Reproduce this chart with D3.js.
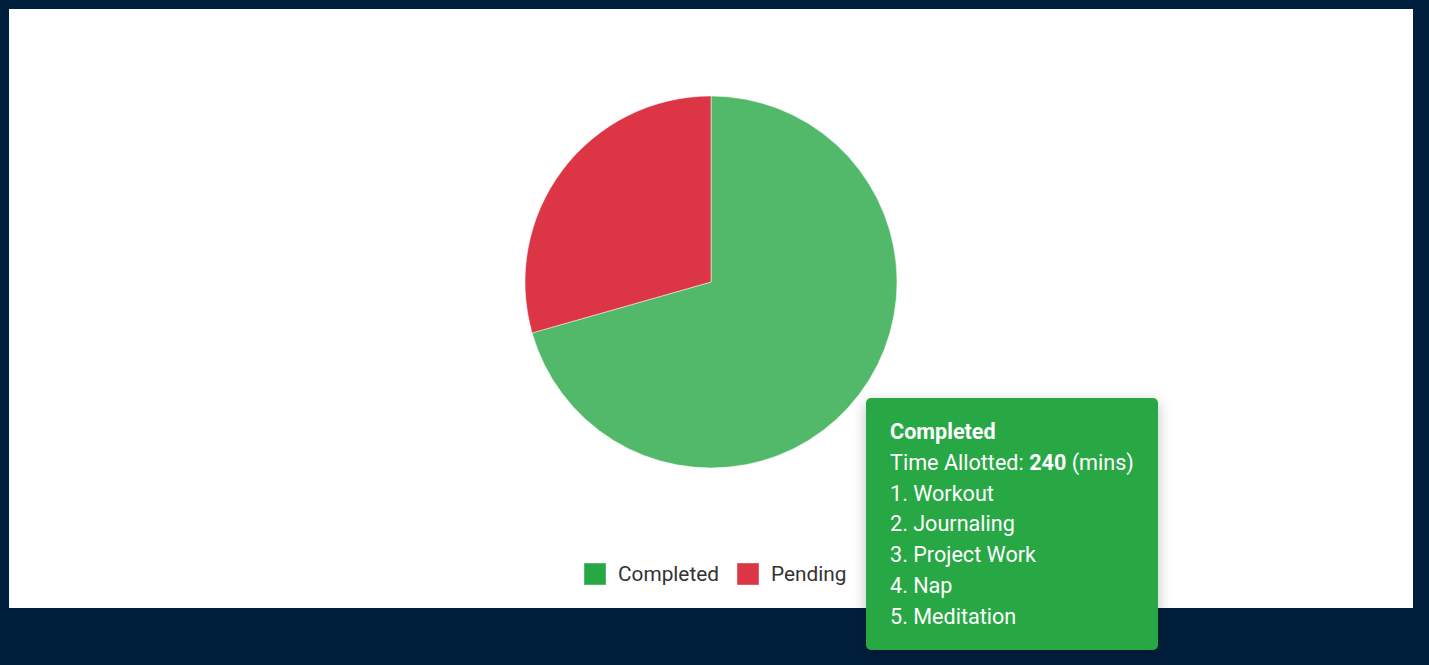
<!DOCTYPE html>
<html lang="en">
<head>
<meta charset="UTF-8">
<title>Tasks</title>
<script src="https://d3js.org/d3.v7.min.js"></script>
<style>
    html, body {
        margin: 0;
        padding: 0;
        background-color: #001f3d;
        font-family: Roboto, sans-serif;
        overflow: hidden;
    }
    #card {
        position: absolute;
        left: 9px;
        top: 9px;
        width: 1404px;
        height: 599px;
        background-color: #ffffff;
    }
    .toolt {
        position: absolute;
        background-color: #28a745;
        color: #ffffff;
        border-radius: 5px;
        padding: 19px 24px 17px 24px;
        font-size: 21.6px;
        line-height: 30.8px;
        box-shadow: 0 4px 14px rgba(0,0,0,0.25);
        white-space: nowrap;
    }
</style>
</head>
<body>
<div id="card"></div>

<script>
// data
var categories = ["Completed", "Pending"];
var minutes = [240, 100];
var colors = ["#28a745", "#dc3545"];
var completedTasks = ["Workout", "Journaling", "Project Work", "Nap", "Meditation"];

var W = 1404, H = 599,
    cx = 702, cy = 273, radius = 186;

var svg = d3.select("#card")
    .append("svg")
        .attr("width", W)
        .attr("height", H);

var pie = d3.pie().sort(null).value(function(d) { return d; });
var arc = d3.arc().innerRadius(0).outerRadius(radius);

var g = svg.append("g")
    .attr("transform", "translate(" + cx + "," + cy + ")");

g.selectAll("path")
    .data(pie(minutes))
    .enter()
    .append("path")
        .attr("d", arc)
        .attr("fill", function(d, i) { return colors[i]; })
        .attr("fill-opacity", function(d, i) { return i === 0 ? 0.8 : 1; })
        .attr("stroke", "#ffffff")
        .attr("stroke-width", 0.5);

// legend
var legend = svg.append("g")
    .attr("transform", "translate(575,554)");
var offsets = [0, 153];
var items = legend.selectAll("g")
    .data(categories)
    .enter()
    .append("g")
        .attr("transform", function(d, i) { return "translate(" + offsets[i] + ",0)"; });
items.append("rect")
    .attr("width", 22)
    .attr("height", 22)
    .attr("fill", function(d, i) { return colors[i]; })
    .attr("stroke", "rgba(255,255,255,0.4)");
items.append("text")
    .attr("x", 34)
    .attr("y", 18)
    .style("font-family", "Roboto, sans-serif")
    .style("font-size", "20.8px")
    .style("fill", "#333333")
    .text(function(d) { return d; });

// tooltip (shown for Completed)
var Toolt = d3.select("body")
    .append("div")
    .attr("class", "toolt")
    .style("left", "866px")
    .style("top", "398px");

var html = "<b>" + categories[0] + "</b><br>Time Allotted: <b>" + minutes[0] + "</b> (mins)";
completedTasks.forEach(function(t, i) {
    html += "<br>" + (i + 1) + ". " + t;
});
Toolt.html(html);
</script>
</body>
</html>
